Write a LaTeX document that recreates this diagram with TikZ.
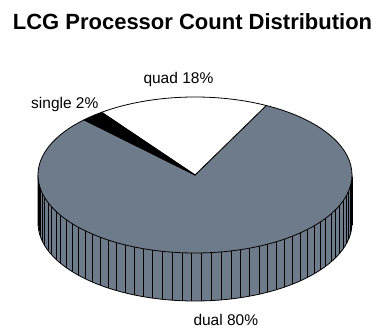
\documentclass[tikz,border=0pt]{standalone}
\usepackage{fontspec}
\setmainfont{Liberation Sans}
\definecolor{slate}{RGB}{110,123,139}
\begin{document}
\begin{tikzpicture}[x=1pt,y=1pt,
  edge/.style={draw=black,line width=0.8pt,line join=round},
  rib/.style={draw=black,line width=0.6pt},
  lbl/.style={inner sep=0pt,font=\fontsize{15.5}{18}\selectfont},
  ttl/.style={inner sep=0pt,font=\fontsize{22}{26}\selectfont\bfseries}]
\useasboundingbox (0,0) rectangle (382,329);
% side of the pie
\fill[slate] (38,154) -- (38,106) arc[start angle=180,end angle=360,x radius=157,y radius=78] -- (352,154) arc[start angle=0,end angle=-180,x radius=157,y radius=78] -- cycle;
\foreach \k in {0,...,49}{
  \pgfmathsetmacro{\t}{182.4+3.6*\k}
  \draw[rib] ({195+157*cos(\t)},{154+78*sin(\t)}) -- ++(0,-48);
}
\draw[edge] (38,154) -- (38,106) arc[start angle=180,end angle=360,x radius=157,y radius=78] -- (352,154);
% top slices
\coordinate (C) at (195,154);
\filldraw[fill=slate,edge] (C) -- ({195+157*cos(135)},{154+78*sin(135)}) arc[start angle=135,end angle=423,x radius=157,y radius=78] -- cycle;
\filldraw[fill=white,edge] (C) -- ({195+157*cos(63)},{154+78*sin(63)}) arc[start angle=63,end angle=126.5,x radius=157,y radius=78] -- cycle;
\filldraw[fill=black,edge] (C) -- ({195+157*cos(126.5)},{154+78*sin(126.5)}) arc[start angle=126.5,end angle=135,x radius=157,y radius=78] -- cycle;
% labels
\node[ttl,anchor=base] (title) at (192.5,299.7) {LCG Processor Count Distribution};
\node[lbl,anchor=base west] (quad) at (143.3,245.9) {quad 18\%};
\node[lbl,anchor=base west] (single) at (31,220.6) {single 2\%};
\node[lbl,anchor=base west] (dual) at (193.3,4) {dual 80\%};
\end{tikzpicture}
\end{document}
